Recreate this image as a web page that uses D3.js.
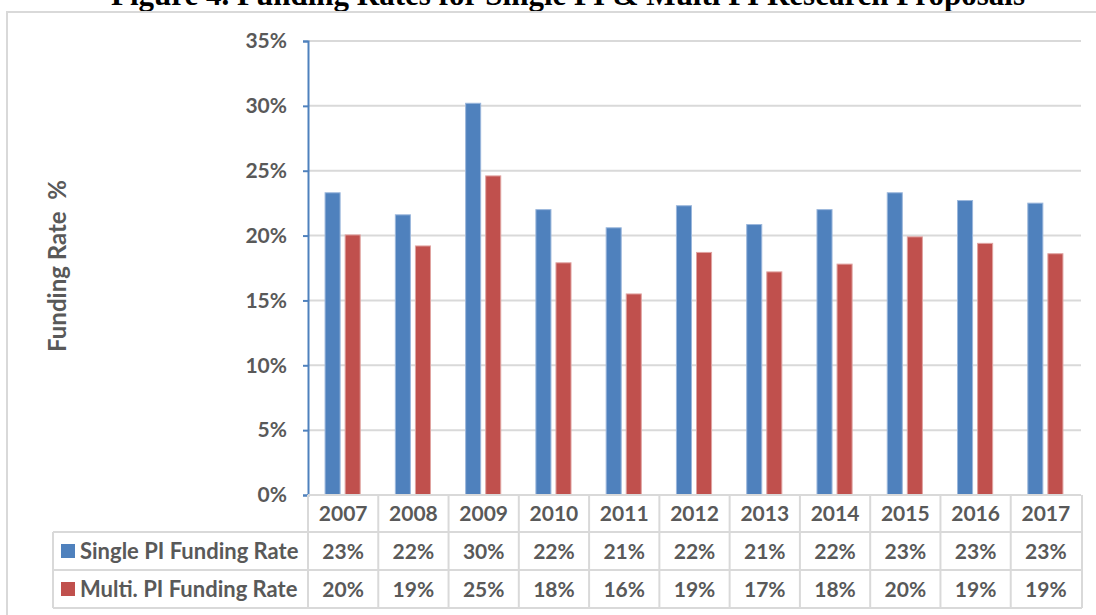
<!DOCTYPE html>
<html>
<head>
<meta charset="utf-8">
<script src="https://cdn.jsdelivr.net/npm/d3@7"></script>
<style>
  html, body { margin: 0; padding: 0; background: #ffffff; }
  svg { display: block; }
  text { white-space: pre; }
</style>
</head>
<body>
<svg id="chart" width="1096" height="615"></svg>
<script>
const years = ["2007","2008","2009","2010","2011","2012","2013","2014","2015","2016","2017"];
const singlePI = [23.3, 21.6, 30.2, 22.0, 20.6, 22.3, 20.85, 22.0, 23.3, 22.7, 22.5];
const multiPI  = [20.05, 19.2, 24.6, 17.9, 15.5, 18.7, 17.2, 17.8, 19.9, 19.4, 18.6];
const singleLabels = ["23%","22%","30%","22%","21%","22%","21%","22%","23%","23%","23%"];
const multiLabels  = ["20%","19%","25%","18%","16%","19%","17%","18%","20%","19%","19%"];
const yTicks = [0, 5, 10, 15, 20, 25, 30, 35];
const seriesNames = ["Single PI Funding Rate", "Multi. PI Funding Rate"];
const seriesColors = ["#4f81bd", "#c0504d"];
const titleText = "Figure 4. Funding Rates for Single PI & Multi PI Research Proposals";
const yTitle = "Funding Rate  %";

const svg = d3.select("#chart");
const textColor = "#595959";
const gridColor = "#d9d9d9";
const font = "Lato, 'Open Sans', sans-serif";

const plotLeft = 308, plotRight = 1081, plotTop = 41, plotBottom = 495;
const x = d3.scaleBand().domain(years).range([plotLeft, plotRight]).padding(0);
const y = d3.scaleLinear().domain([0, 35]).range([plotBottom, plotTop]);
const sub = d3.scaleBand().domain([0, 1]).range([x.bandwidth() * 0.25, x.bandwidth() * 0.75]).paddingInner(0.25).paddingOuter(0);

// Title (cut off at top, as in the reference)
svg.append("text")
  .attr("x", 568).attr("y", 5)
  .attr("text-anchor", "middle")
  .attr("font-family", "'Liberation Serif', 'Times New Roman', serif")
  .attr("font-weight", "bold")
  .attr("font-size", 31)
  .attr("fill", "#000")
  .text(titleText);

// Chart frame
svg.append("rect")
  .attr("x", 7).attr("y", 12)
  .attr("width", 1200).attr("height", 700)
  .attr("fill", "none")
  .attr("stroke", gridColor).attr("stroke-width", 2);

// Gridlines
svg.append("g").selectAll("line").data(yTicks.filter(d => d > 0)).join("line")
  .attr("x1", plotLeft).attr("x2", plotRight)
  .attr("y1", d => y(d)).attr("y2", d => y(d))
  .attr("stroke", gridColor).attr("stroke-width", 2);

// Y axis
const yAxis = d3.axisLeft(y).tickValues(yTicks).tickFormat(d => d + "%").tickSize(5).tickPadding(16);
const gy = svg.append("g").attr("transform", `translate(${plotLeft},0)`).call(yAxis);
gy.select(".domain").attr("stroke", "#4f81bd").attr("stroke-width", 2);
gy.selectAll(".tick line").attr("stroke", "#4f81bd").attr("stroke-width", 2);
gy.selectAll(".tick text")
  .attr("font-family", font).attr("font-weight", "bold")
  .attr("font-size", 21).attr("fill", textColor);

// Y title
svg.append("text")
  .attr("transform", "translate(66,266) rotate(-90)")
  .attr("text-anchor", "middle")
  .attr("font-family", font).attr("font-weight", "bold")
  .attr("font-size", 24).attr("fill", textColor)
  .text(yTitle);

// Bars
const series = [singlePI, multiPI];
series.forEach((vals, si) => {
  svg.append("g").selectAll("rect").data(vals).join("rect")
    .attr("x", (d, i) => x(years[i]) + sub(si) - 0.5)
    .attr("width", sub.bandwidth())
    .attr("y", d => y(d))
    .attr("height", d => y(0) - y(d))
    .attr("fill", seriesColors[si])
    .attr("stroke", si === 0 ? "#9bb7dc" : "#e0a3a1")
    .attr("stroke-width", 1);
});

// Data table
const rowTops = [495, 532, 570, 608];
const tableLeft = 53;
const tg = svg.append("g");
tg.append("line").attr("x1", plotLeft).attr("x2", plotRight).attr("y1", plotBottom).attr("y2", plotBottom)
  .attr("stroke", gridColor).attr("stroke-width", 2);
rowTops.slice(1).forEach(yy => {
  tg.append("line").attr("x1", tableLeft).attr("x2", plotRight + 1).attr("y1", yy).attr("y2", yy)
    .attr("stroke", gridColor).attr("stroke-width", 2);
});
const bounds = years.map(yr => x(yr)).concat([plotRight + 1]);
tg.selectAll("line.v").data(bounds).join("line").attr("class", "v")
  .attr("x1", d => d).attr("x2", d => d)
  .attr("y1", plotBottom).attr("y2", rowTops[3])
  .attr("stroke", gridColor).attr("stroke-width", 2);
tg.append("line").attr("x1", tableLeft).attr("x2", tableLeft).attr("y1", rowTops[1]).attr("y2", rowTops[3])
  .attr("stroke", gridColor).attr("stroke-width", 2);

tg.selectAll("text.yr").data(years).join("text").attr("class", "yr")
  .attr("x", d => x(d) + x.bandwidth() / 2)
  .attr("y", (rowTops[0] + rowTops[1]) / 2)
  .attr("dy", "0.36em")
  .attr("text-anchor", "middle")
  .attr("font-family", font).attr("font-weight", "bold")
  .attr("font-size", 21).attr("fill", textColor)
  .text(d => d);

[singleLabels, multiLabels].forEach((labels, si) => {
  const cy = (rowTops[si + 1] + rowTops[si + 2]) / 2;
  tg.selectAll("text.r" + si).data(labels).join("text").attr("class", "r" + si)
    .attr("x", (d, i) => x(years[i]) + x.bandwidth() / 2)
    .attr("y", cy).attr("dy", "0.36em")
    .attr("text-anchor", "middle")
    .attr("font-family", font).attr("font-weight", "bold")
    .attr("font-size", 21).attr("fill", textColor)
    .text(d => d);
  tg.append("rect")
    .attr("x", 61).attr("y", cy - 7).attr("width", 14).attr("height", 14)
    .attr("fill", seriesColors[si]);
  tg.append("text")
    .attr("x", 80).attr("y", cy).attr("dy", "0.36em")
    .attr("font-family", font).attr("font-weight", "bold")
    .attr("font-size", 22).attr("fill", textColor)
    .text(seriesNames[si]);
});
</script>
</body>
</html>
